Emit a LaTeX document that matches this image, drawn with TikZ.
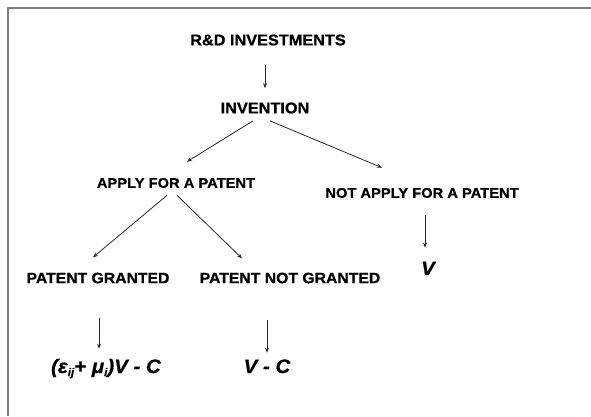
\documentclass[tikz,border=0pt]{standalone}
\usepackage{fontspec}
\setmainfont{Liberation Sans}[FakeStretch=1.05, BoldFeatures={FakeBold=0.8}, BoldItalicFeatures={FakeBold=0.8}]
\usetikzlibrary{arrows.meta,calc}

\tikzset{every picture/.style={line width=0.75pt}}
\tikzset{
  bigtxt/.style={font=\fontsize{15.5}{18}\selectfont\bfseries, inner sep=0pt},
  smalltxt/.style={font=\fontsize{14}{17}\selectfont\bfseries, inner sep=0pt},
  lowtxt/.style={font=\fontsize{15}{17}\selectfont\bfseries, inner sep=0pt},
  payoff/.style={font=\fontsize{19.5}{22}\selectfont\bfseries\itshape, inner sep=0pt, text height=13pt, text depth=4pt, anchor=base},
  arr/.style={-{Stealth[length=5pt,width=4pt]}, draw={rgb, 255:red, 40; green, 40; blue, 40}, line width=0.8pt},
}
\newcommand{\lowidx}[1]{\raisebox{-3pt}{\fontsize{11}{11}\selectfont #1}}

\begin{document}
\begin{tikzpicture}[x=1pt,y=1pt,yscale=-1,xscale=1]
        \useasboundingbox (0,0) rectangle (591,416);

        %Frame
        \draw [color={rgb, 255:red, 128; green, 128; blue, 128 }, line width=2] (8,416) -- (8,8) -- (591,8) ;

        % Text Node
        \node [bigtxt] (rd) at (268,40) {R\&D INVESTMENTS};
        % Text Node
        \node [bigtxt] (inv) at (265,108) {INVENTION};
        % Text Node
        \node [smalltxt] (apply) at (176,183) {APPLY FOR A PATENT};
        % Text Node
        \node [smalltxt] (notapply) at (422,193) {NOT APPLY FOR A PATENT};
        % Text Node
        \node [lowtxt] (granted) at (98,278) {PATENT GRANTED};
        % Text Node
        \node [lowtxt] (notgranted) at (290,278) {PATENT NOT GRANTED};
        % Text Node
        \node [payoff] (vnot) at (428,275) {V};
        % Text Node
        \node [payoff] (pg) at (106,373) {(ε\lowidx{ij}+ μ\lowidx{i})V - C};
        % Text Node
        \node [payoff] (png) at (267,373) {V - C};

        %Straight Lines
        \draw [arr] ($(inv.north)+(0,-37)$) -- ($(inv.north)+(0,-14)$) ;
        \draw [arr] ($(inv.south)+(-12,7)$) -- ($(apply.north)+(11,-16)$) ;
        \draw [arr] ($(inv.south)+(5,7)$) -- ($(notapply.north)+(-40,-20)$) ;
        \draw [arr] ($(apply.south)+(-9,7)$) -- ($(granted.north)+(-5,-15)$) ;
        \draw [arr] ($(apply.south)+(1,7)$) -- ($(notgranted.north)+(-48,-14)$) ;
        \draw [arr] ($(notapply.south)+(3,17)$) -- ($(vnot.north)+(-3,-14)$) ;
        \draw [arr] ($(granted.south)+(1,34)$) -- ($(granted.south)+(1,65)$) ;
        \draw [arr] ($(png.north)+(0,-40)$) -- ($(png.north)+(0,-7)$) ;

\end{tikzpicture}
\end{document}
